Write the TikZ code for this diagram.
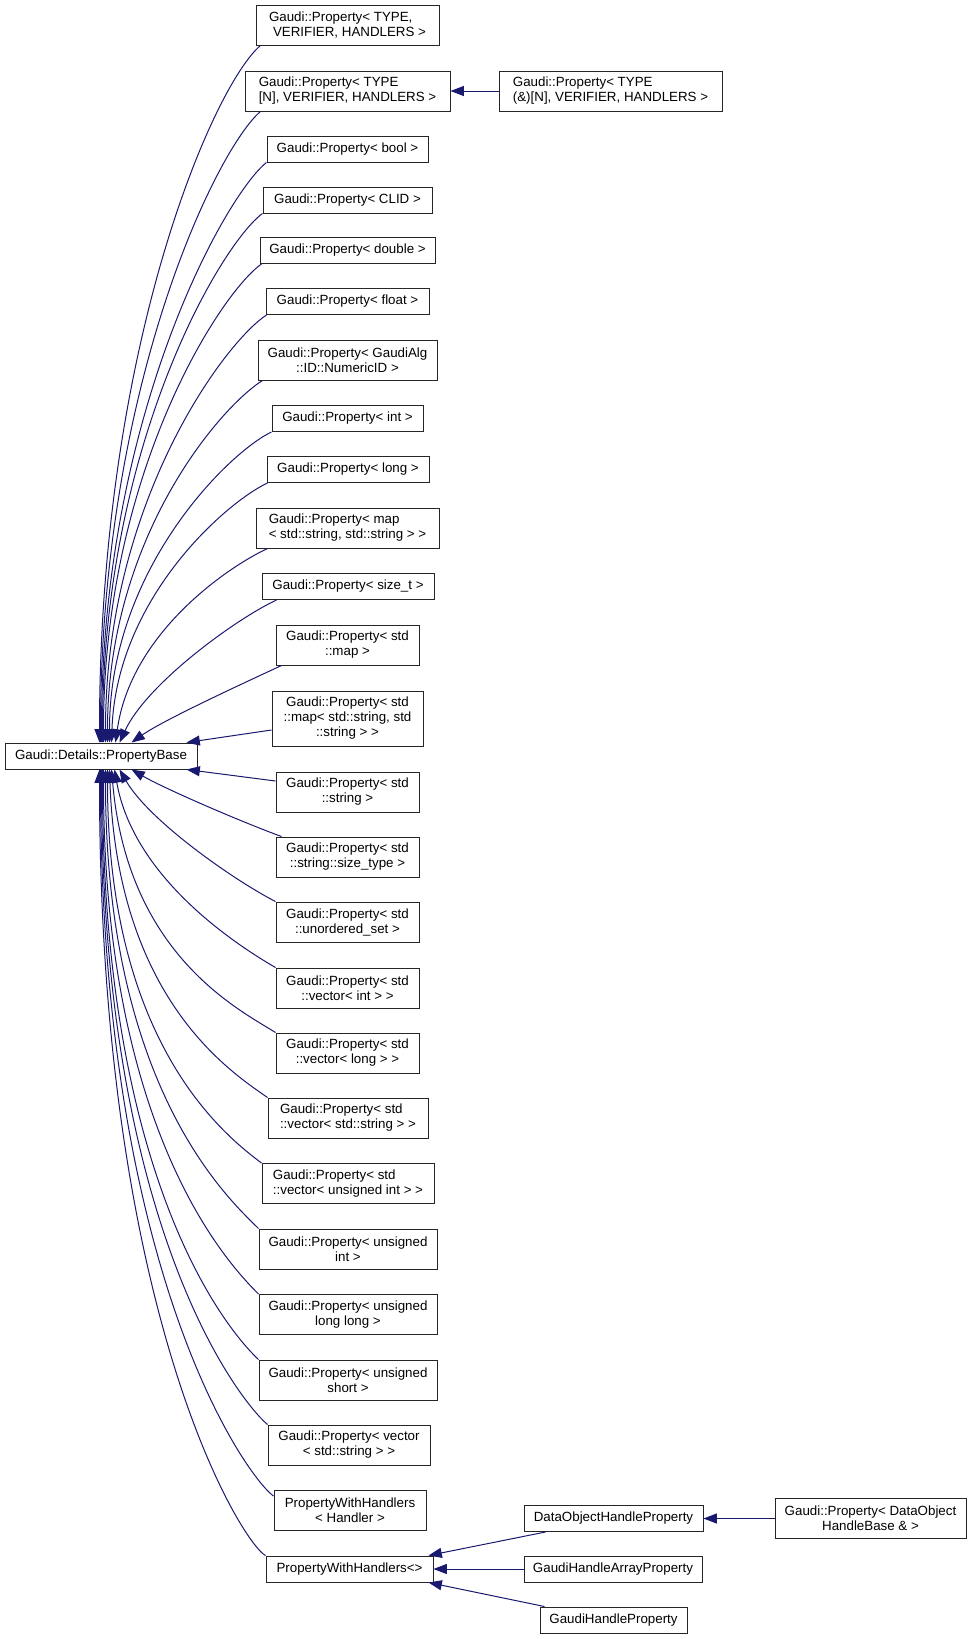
\documentclass[tikz,border=0pt]{standalone}
\usepackage{fontspec}
\setmainfont{Liberation Sans}
\usetikzlibrary{arrows.meta,calc}

\definecolor{edgeblue}{RGB}{25,25,112}
\newlength{\unitpx}
\setlength{\unitpx}{0.75pt}

\begin{document}
\begin{tikzpicture}[x=\unitpx, y=\unitpx, font=\fontsize{10}{11.25}\selectfont,
  cls/.style={draw=black!85, line width=0.75pt, fill=white, inner sep=0pt,
              align=center, minimum height=26\unitpx},
  cls2/.style={cls, minimum height=40\unitpx},
  derived/.style={draw=edgeblue, line width=0.75pt, -{Triangle[length=10pt,width=7.5pt]}}]
\useasboundingbox (0,0) rectangle (968,-1639);

% base class
\node[cls, minimum width=192\unitpx] (pb) at (101,-756) {Gaudi::Details::PropertyBase};

% derived classes, upper half
\node[cls2, minimum width=183\unitpx, align=left] (tvh) at (347.5,-25)
      {Gaudi::Property< TYPE,\\\hspace{3pt}VERIFIER, HANDLERS >};
\node[cls2, minimum width=205\unitpx, align=left] (tnvh) at (347.5,-91)
      {Gaudi::Property< TYPE\\{}[N], VERIFIER, HANDLERS >};
\node[cls2, minimum width=223\unitpx, align=left] (tanvh) at (610.5,-91)
      {Gaudi::Property< TYPE\\(\&)[N], VERIFIER, HANDLERS >};
\node[cls, minimum width=161\unitpx] (pbool) at (347.5,-149) {Gaudi::Property< bool >};
\node[cls, minimum width=169\unitpx] (pclid) at (347.5,-200) {Gaudi::Property< CLID >};
\node[cls, minimum width=175\unitpx] (pdouble) at (347.5,-250.5) {Gaudi::Property< double >};
\node[cls, minimum width=163\unitpx] (pfloat) at (347.5,-301.5) {Gaudi::Property< float >};
\node[cls2, minimum width=179\unitpx] (pnumid) at (347.5,-360)
      {Gaudi::Property< GaudiAlg\\::ID::NumericID >};
\node[cls, minimum width=151\unitpx] (pint) at (347.5,-418.5) {Gaudi::Property< int >};
\node[cls, minimum width=162\unitpx] (plong) at (348,-469.5) {Gaudi::Property< long >};
\node[cls2, minimum width=183\unitpx, align=left] (pmapss) at (347.5,-528)
      {Gaudi::Property< map\\< std::string, std::string > >};
\node[cls, minimum width=172\unitpx] (psize) at (348,-586.5) {Gaudi::Property< size\_t >};
\node[cls2, minimum width=143\unitpx] (pstdmap) at (347.5,-645)
      {Gaudi::Property< std\\::map >};
\node[cls, minimum width=151\unitpx, minimum height=55\unitpx] (pstdmapss) at (347.5,-718.5)
      {Gaudi::Property< std\\::map< std::string, std\\::string > >};

% derived classes, lower half
\node[cls2, minimum width=143\unitpx] (pstr) at (347.5,-792)
      {Gaudi::Property< std\\::string >};
\node[cls2, minimum width=143\unitpx] (pstype) at (347.5,-857)
      {Gaudi::Property< std\\::string::size\_type >};
\node[cls2, minimum width=143\unitpx] (puset) at (347.5,-922)
      {Gaudi::Property< std\\::unordered\_set >};
\node[cls2, minimum width=143\unitpx] (pvint) at (347.5,-988)
      {Gaudi::Property< std\\::vector< int > >};
\node[cls2, minimum width=143\unitpx] (pvlong) at (347.5,-1053)
      {Gaudi::Property< std\\::vector< long > >};
\node[cls2, minimum width=160\unitpx, align=left] (pvstr) at (348,-1118)
      {Gaudi::Property< std\\::vector< std::string > >};
\node[cls2, minimum width=172\unitpx, align=left] (pvuint) at (348,-1183.5)
      {Gaudi::Property< std\\::vector< unsigned int > >};
\node[cls2, minimum width=178\unitpx] (puint) at (348,-1249)
      {Gaudi::Property< unsigned\\int >};
\node[cls2, minimum width=178\unitpx] (pull) at (348,-1314.5)
      {Gaudi::Property< unsigned\\long long >};
\node[cls2, minimum width=178\unitpx] (pushort) at (348,-1380)
      {Gaudi::Property< unsigned\\short >};
\node[cls2, minimum width=162\unitpx] (pvecstr) at (349,-1445)
      {Gaudi::Property< vector\\< std::string > >};
\node[cls2, minimum width=152\unitpx] (pwhh) at (350,-1510.5)
      {PropertyWithHandlers\\< Handler >};
\node[cls, minimum width=167\unitpx] (pwh) at (349.5,-1569) {PropertyWithHandlers<>};

% second level
\node[cls, minimum width=179\unitpx] (doh) at (613.5,-1518.5) {DataObjectHandleProperty};
\node[cls2, minimum width=191\unitpx] (dohb) at (870.5,-1518.5)
      {Gaudi::Property< DataObject\\HandleBase \& >};
\node[cls, minimum width=178\unitpx] (ghap) at (613,-1569) {GaudiHandleArrayProperty};
\node[cls, minimum width=147\unitpx] (ghp) at (613.5,-1620) {GaudiHandleProperty};

% inheritance arrows into the base, from above
\draw[derived] ($(tvh.south west)+(5,0)$) .. controls +(220:60) and +(90:400) .. ($(pb.north west)+(95,0)$);
\draw[derived] ($(tnvh.south west)+(16,0)$) .. controls +(220:55) and +(90:360) .. ($(pb.north west)+(96,0)$);
\draw[derived] (pbool.south west) .. controls +(218:50) and +(90:330) .. ($(pb.north west)+(97,0)$);
\draw[derived] (pclid.south west) .. controls +(216:50) and +(90:300) .. ($(pb.north west)+(98,0)$);
\draw[derived] ($(pdouble.south west)+(2,0)$) .. controls +(215:50) and +(90:270) .. ($(pb.north west)+(99,0)$);
\draw[derived] ($(pfloat.south west)+(1,0)$) .. controls +(213:50) and +(90:240) .. ($(pb.north west)+(101,0)$);
\draw[derived] ($(pnumid.south west)+(5,0)$) .. controls +(212:50) and +(90:205) .. ($(pb.north west)+(103,0)$);
\draw[derived] (pint.south west) .. controls +(205:45) and +(90:175) .. ($(pb.north west)+(105,0)$);
\draw[derived] ($(plong.south west)+(1,0)$) .. controls +(205:45) and +(88:145) .. ($(pb.north west)+(107,0)$);
\draw[derived] ($(pmapss.south west)+(12,0)$) .. controls +(205:45) and +(82:110) .. ($(pb.north west)+(111,0)$);
\draw[derived] ($(psize.south west)+(15,0)$) .. controls +(205:45) and +(65:65) .. ($(pb.north west)+(115,0)$);
\draw[derived] ($(pstdmap.south west)+(6,0)$) .. controls +(205:40) and +(35:40) .. ($(pb.north west)+(127,0)$);
\draw[derived] ($(pstdmapss.west)+(0,-11.5)$) -- ($(pb.north east)+(-11,0)$);

% inheritance arrows into the base, from below
\draw[derived] ($(pstr.west)+(0,11)$) -- ($(pb.south east)+(-11,0)$);
\draw[derived] ($(pstype.north west)+(6,0)$) .. controls +(160:40) and +(-30:40) .. ($(pb.south west)+(127,0)$);
\draw[derived] (puset.north west) .. controls +(153:45) and +(-60:60) .. ($(pb.south west)+(115,0)$);
\draw[derived] (pvint.north west) .. controls +(150:45) and +(-80:110) .. ($(pb.south west)+(110,0)$);
\draw[derived] (pvlong.north west) .. controls +(148:45) and +(-85:185) .. ($(pb.south west)+(107,0)$);
\draw[derived] (pvstr.north west) .. controls +(145:45) and +(-88:230) .. ($(pb.south west)+(105,0)$);
\draw[derived] (pvuint.north west) .. controls +(143:45) and +(-90:275) .. ($(pb.south west)+(103,0)$);
\draw[derived] (puint.north west) .. controls +(135:40) and +(-90:320) .. ($(pb.south west)+(101,0)$);
\draw[derived] (pull.north west) .. controls +(135:40) and +(-90:365) .. ($(pb.south west)+(99,0)$);
\draw[derived] (pushort.north west) .. controls +(137:40) and +(-90:415) .. ($(pb.south west)+(98,0)$);
\draw[derived] (pvecstr.north west) .. controls +(140:35) and +(-90:460) .. ($(pb.south west)+(97,0)$);
\draw[derived] ($(pwhh.north west)+(0,-6)$) .. controls +(145:30) and +(-90:510) .. ($(pb.south west)+(96,0)$);
\draw[derived] (pwh.north west) .. controls +(153:25) and +(-90:550) .. ($(pb.south west)+(95,0)$);

% other arrows
\draw[derived] (tanvh.west) -- (tnvh.east);
\draw[derived] (dohb.west) -- (doh.east);
\draw[derived] ($(doh.south west)+(22,0)$) -- ($(pwh.north east)+(-5,0)$);
\draw[derived] (ghap.west) -- (pwh.east);
\draw[derived] ($(ghp.north west)+(5,0)$) -- ($(pwh.south east)+(-5,0)$);
\end{tikzpicture}
\end{document}
